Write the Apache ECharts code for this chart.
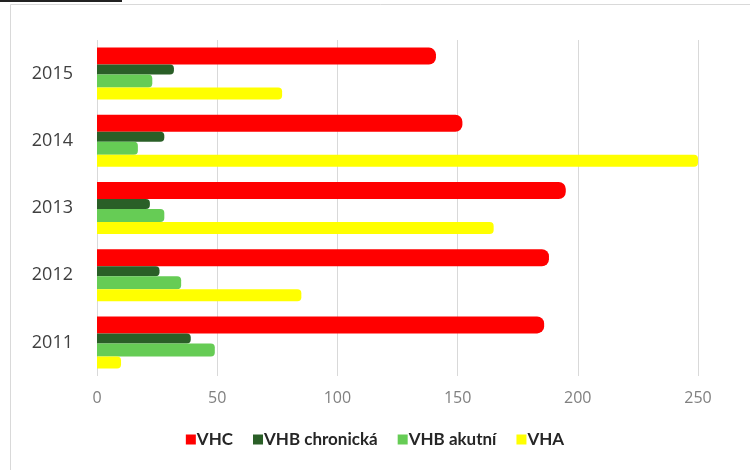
<!DOCTYPE html>
<html>
<head>
<meta charset="utf-8">
<script src="https://cdn.jsdelivr.net/npm/echarts@6/dist/echarts.min.js"></script>
<style>html,body{margin:0;padding:0;background:#fff;}#c{width:750px;height:470px;}</style>
</head>
<body>
<div id="c"></div>
<script>
const years = ['2011', '2012', '2013', '2014', '2015'];
const seriesNames = ['VHC', 'VHB chronická', 'VHB akutní', 'VHA'];
const vhc = [186, 188, 195, 152, 141];
const vhbChronic = [39, 26, 22, 28, 32];
const vhbAcute = [49, 35, 28, 17, 23];
const vha = [10, 85, 165, 250, 77];
const xTicks = [0, 50, 100, 150, 200, 250];

const colors = ['#FF0000', '#2A5F27', '#66CC55', '#FFFF00'];
const widths = [17, 10, 13, 12];
const radii = [[0, 7, 7, 0], [0, 4, 4, 0], [0, 4, 4, 0], [0, 4, 4, 0]];
const dataSets = [vhc, vhbChronic, vhbAcute, vha];

const chart = echarts.init(document.getElementById('c'));
chart.setOption({
  animation: false,
  backgroundColor: '#fff',
  graphic: [
    { type: 'rect', shape: { x: 10.5, y: 4.5, width: 800, height: 500 }, style: { fill: 'none', stroke: '#d9d9d9', lineWidth: 1 }, silent: true },
    { type: 'rect', shape: { x: 0, y: 0, width: 122, height: 2 }, style: { fill: '#222' }, silent: true }
  ],
  grid: { left: 97, right: 52, top: 40, bottom: 94 },
  legend: {
    data: seriesNames,
    bottom: 17,
    left: 'center',
    itemWidth: 10,
    itemHeight: 10,
    itemGap: 20,
    icon: 'rect',
    textStyle: { fontFamily: 'Lato', fontWeight: 'bold', fontSize: 17, color: '#262626', padding: [0, 0, 0, -4] }
  },
  xAxis: {
    type: 'value',
    min: 0,
    max: 250,
    interval: 50,
    axisLine: { show: false },
    axisTick: { show: false },
    splitLine: { lineStyle: { color: '#d9d9d9' } },
    axisLabel: {
      color: '#808080',
      fontFamily: 'Open Sans',
      fontSize: 16,
      margin: 14,
      formatter: v => xTicks.includes(v) ? String(v) : ''
    }
  },
  yAxis: {
    type: 'category',
    data: years,
    axisLine: { show: false },
    axisTick: { show: false },
    axisLabel: {
      color: '#404040',
      fontFamily: 'Open Sans',
      fontSize: 18,
      margin: 24,
      padding: [8, 0, 0, 0]
    }
  },
  series: dataSets.map((d, i) => ({
    name: seriesNames[i],
    type: 'bar',
    data: d,
    barWidth: widths[i],
    barGap: '0%',
    itemStyle: { color: colors[i], borderRadius: radii[i] }
  }))
});
</script>
</body>
</html>
